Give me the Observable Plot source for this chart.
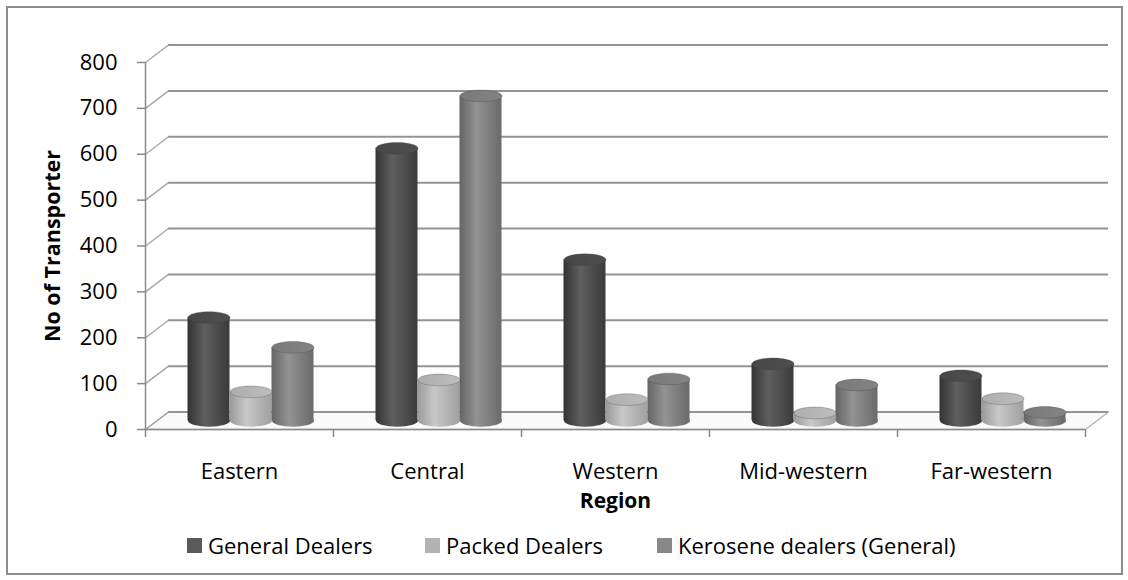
<!DOCTYPE html>
<html>
<head>
<meta charset="utf-8">
<script src="https://cdn.jsdelivr.net/npm/d3@7"></script>
<script src="https://cdn.jsdelivr.net/npm/@observablehq/plot@0.6"></script>
<style>
  body { margin: 0; background: #fff; font-family: "Open Sans", sans-serif; }
  #wrap { position: relative; width: 1128px; height: 580px; overflow: hidden; background: #fff; }
  #chart { position: absolute; left: 0; top: 0; }
  #frame { position: absolute; left: 6px; top: 6px; width: 1113px; height: 565px; border: 2px solid #8c8c8c; pointer-events: none; }
  .lg { position: absolute; top: 533px; display: flex; align-items: center; font-size: 22px; line-height: 24px; color: #000; white-space: nowrap; }
  .lg i { display: inline-block; width: 15px; height: 15px; margin-right: 6px; }
</style>
</head>
<body>
<div id="wrap">
  <div id="chart"></div>
  <div id="legend"></div>
  <div id="frame"></div>
</div>
<script>
// ---- data ----
const regions = ["Eastern", "Central", "Western", "Mid-western", "Far-western"];
const series = ["General Dealers", "Packed Dealers", "Kerosene dealers (General)"];
const generalDealers = [225, 594, 351, 124, 98];
const packedDealers = [63, 89, 46, 17, 48];
const keroseneDealers = [160, 708, 91, 78, 18];
const yTicks = [0, 100, 200, 300, 400, 500, 600, 700, 800];
const xLabel = "Region";
const yLabel = "No of Transporter";

// ---- styling / geometry constants ----
const seriesValues = [generalDealers, packedDealers, keroseneDealers];
const legendColors = ["#5a5a5a", "#b3b3b3", "#888888"];
const gradStops = [
  ["#333333", "#5f5f5f", "#3a3a3a"],
  ["#9a9a9a", "#c8c8c8", "#a0a0a0"],
  ["#646464", "#939393", "#6a6a6a"]
];
const topFills = ["#474747", "#adadad", "#797979"];
const bandPx = 188, unitPx = 45.9;          // pixels per region, per 100 units
const depthX = 23 / bandPx;                   // 3D depth offset (x, in region units)
const depthY = 17.5 / unitPx * 100;           // 3D depth offset (y, in value units)
const barW = 42 / bandPx;                     // bar width in region units
const gridColor = "#939393", axisColor = "#8a8a8a";

// table built from the arrays
const table = [];
regions.forEach((r, i) => {
  series.forEach((s, k) => {
    const xc = i + 0.5 + (k - 1) * barW + depthX / 2;
    table.push({region: r, series: s, k, value: seriesValues[k][i],
      xc, x1: xc - barW / 2, x2: xc + barW / 2, base: depthY / 2, top: seriesValues[k][i] + depthY / 2});
  });
});

const floorPts = [[0, 0], [regions.length, 0], [regions.length + depthX, depthY], [depthX, depthY], [0, 0]];

const ellipse = {
  draw(ctx, size) {
    const rx = Math.sqrt(size / Math.PI), ry = rx * 0.28, c = 0.5523;
    ctx.moveTo(rx, 0);
    ctx.bezierCurveTo(rx, ry * c, rx * c, ry, 0, ry);
    ctx.bezierCurveTo(-rx * c, ry, -rx, ry * c, -rx, 0);
    ctx.bezierCurveTo(-rx, -ry * c, -rx * c, -ry, 0, -ry);
    ctx.bezierCurveTo(rx * c, -ry, rx, -ry * c, rx, 0);
    ctx.closePath();
  }
};

const colorDomain = [...series, ...series.map(s => s + " top")];
const colorRange = [...series.map((s, k) => `url(#body${k})`), ...series.map((s, k) => `url(#top${k})`)];

const chart = Plot.plot({
  width: 1128,
  height: 515,
  marginLeft: 145,
  marginRight: 43,
  marginTop: 62,
  marginBottom: 86,
  style: {fontFamily: "'Open Sans', sans-serif", fontSize: "22px", color: "#000", background: "transparent", overflow: "visible"},
  x: {type: "linear", domain: [0, regions.length], axis: null},
  y: {domain: [0, 800], axis: null},
  color: {type: "ordinal", domain: colorDomain, range: colorRange},
  marks: [
    // floor
    Plot.line(floorPts, {x: d => d[0], y: d => d[1], fill: "#fafafa", stroke: "#b8b8b8", strokeWidth: 1.5}),
    // back-wall gridlines
    Plot.ruleY(yTicks, {y: d => d + depthY, x1: depthX, x2: regions.length + depthX, stroke: gridColor, strokeWidth: 2}),
    // side-wall connectors
    Plot.link(yTicks, {x1: 0, y1: d => d, x2: depthX, y2: d => d + depthY, stroke: "#a8a8a8", strokeWidth: 1.5}),
    // y axis line + ticks
    Plot.ruleX([0], {y1: 0, y2: 800, stroke: axisColor, strokeWidth: 1.5}),
    Plot.ruleY(yTicks, {x1: -8 / bandPx, x2: 0, stroke: axisColor, strokeWidth: 1.5}),
    // x axis line + ticks
    Plot.ruleY([0], {x1: 0, x2: regions.length, stroke: axisColor, strokeWidth: 1.5}),
    Plot.ruleX(d3.range(regions.length + 1), {y1: 0, y2: -8 / unitPx * 100, stroke: axisColor, strokeWidth: 1.5}),
    // cylinders: bottom cap, body, top cap
    Plot.dot(table, {x: "xc", y: "base", r: 21, symbol: ellipse, fill: "series"}),
    Plot.rectY(table, {x1: "x1", x2: "x2", y1: "base", y2: "top", fill: "series"}),
    Plot.dot(table, {x: "xc", y: "top", r: 21, symbol: ellipse, fill: d => d.series + " top", stroke: "#3a3a3a", strokeOpacity: 0.35, strokeWidth: 0.8}),
    // tick labels
    Plot.text(yTicks, {x: 0, y: d => d, text: d => String(d), textAnchor: "end", dx: -28, fill: "#000"}),
    Plot.text(regions, {x: (d, i) => i + 0.5, y: 0, text: d => d, dy: 42, fill: "#000"}),
    // axis titles
    Plot.text([xLabel], {frameAnchor: "bottom", textAnchor: "middle", text: d => d, dy: 78, fontWeight: "bold", fontSize: 21, fill: "#000"}),
    Plot.text([yLabel], {frameAnchor: "left", textAnchor: "middle", text: d => d, rotate: -90, dx: -92, fontWeight: "bold", fontSize: 21.5, fill: "#000"})
  ]
});

// gradient paint servers for the cylinders
const defs = d3.select(chart).insert("defs", ":first-child");
gradStops.forEach((st, k) => {
  const g = defs.append("linearGradient").attr("id", `body${k}`).attr("x1", 0).attr("x2", 1).attr("y1", 0).attr("y2", 0);
  g.append("stop").attr("offset", "0%").attr("stop-color", st[0]);
  g.append("stop").attr("offset", "40%").attr("stop-color", st[1]);
  g.append("stop").attr("offset", "100%").attr("stop-color", st[2]);
  const t = defs.append("linearGradient").attr("id", `top${k}`).attr("x1", 0).attr("x2", 1).attr("y1", 0).attr("y2", 0);
  t.append("stop").attr("offset", "0%").attr("stop-color", topFills[k]);
  t.append("stop").attr("offset", "100%").attr("stop-color", d3.color(topFills[k]).brighter(0.25).formatHex());
});
document.getElementById("chart").appendChild(chart);

// legend
const legendLeft = [187, 425, 657];
const lg = document.getElementById("legend");
series.forEach((s, k) => {
  const item = document.createElement("div");
  item.className = "lg";
  item.style.left = legendLeft[k] + "px";
  item.innerHTML = `<i style="background:${legendColors[k]}"></i><span>${s}</span>`;
  lg.appendChild(item);
});
</script>
</body>
</html>
